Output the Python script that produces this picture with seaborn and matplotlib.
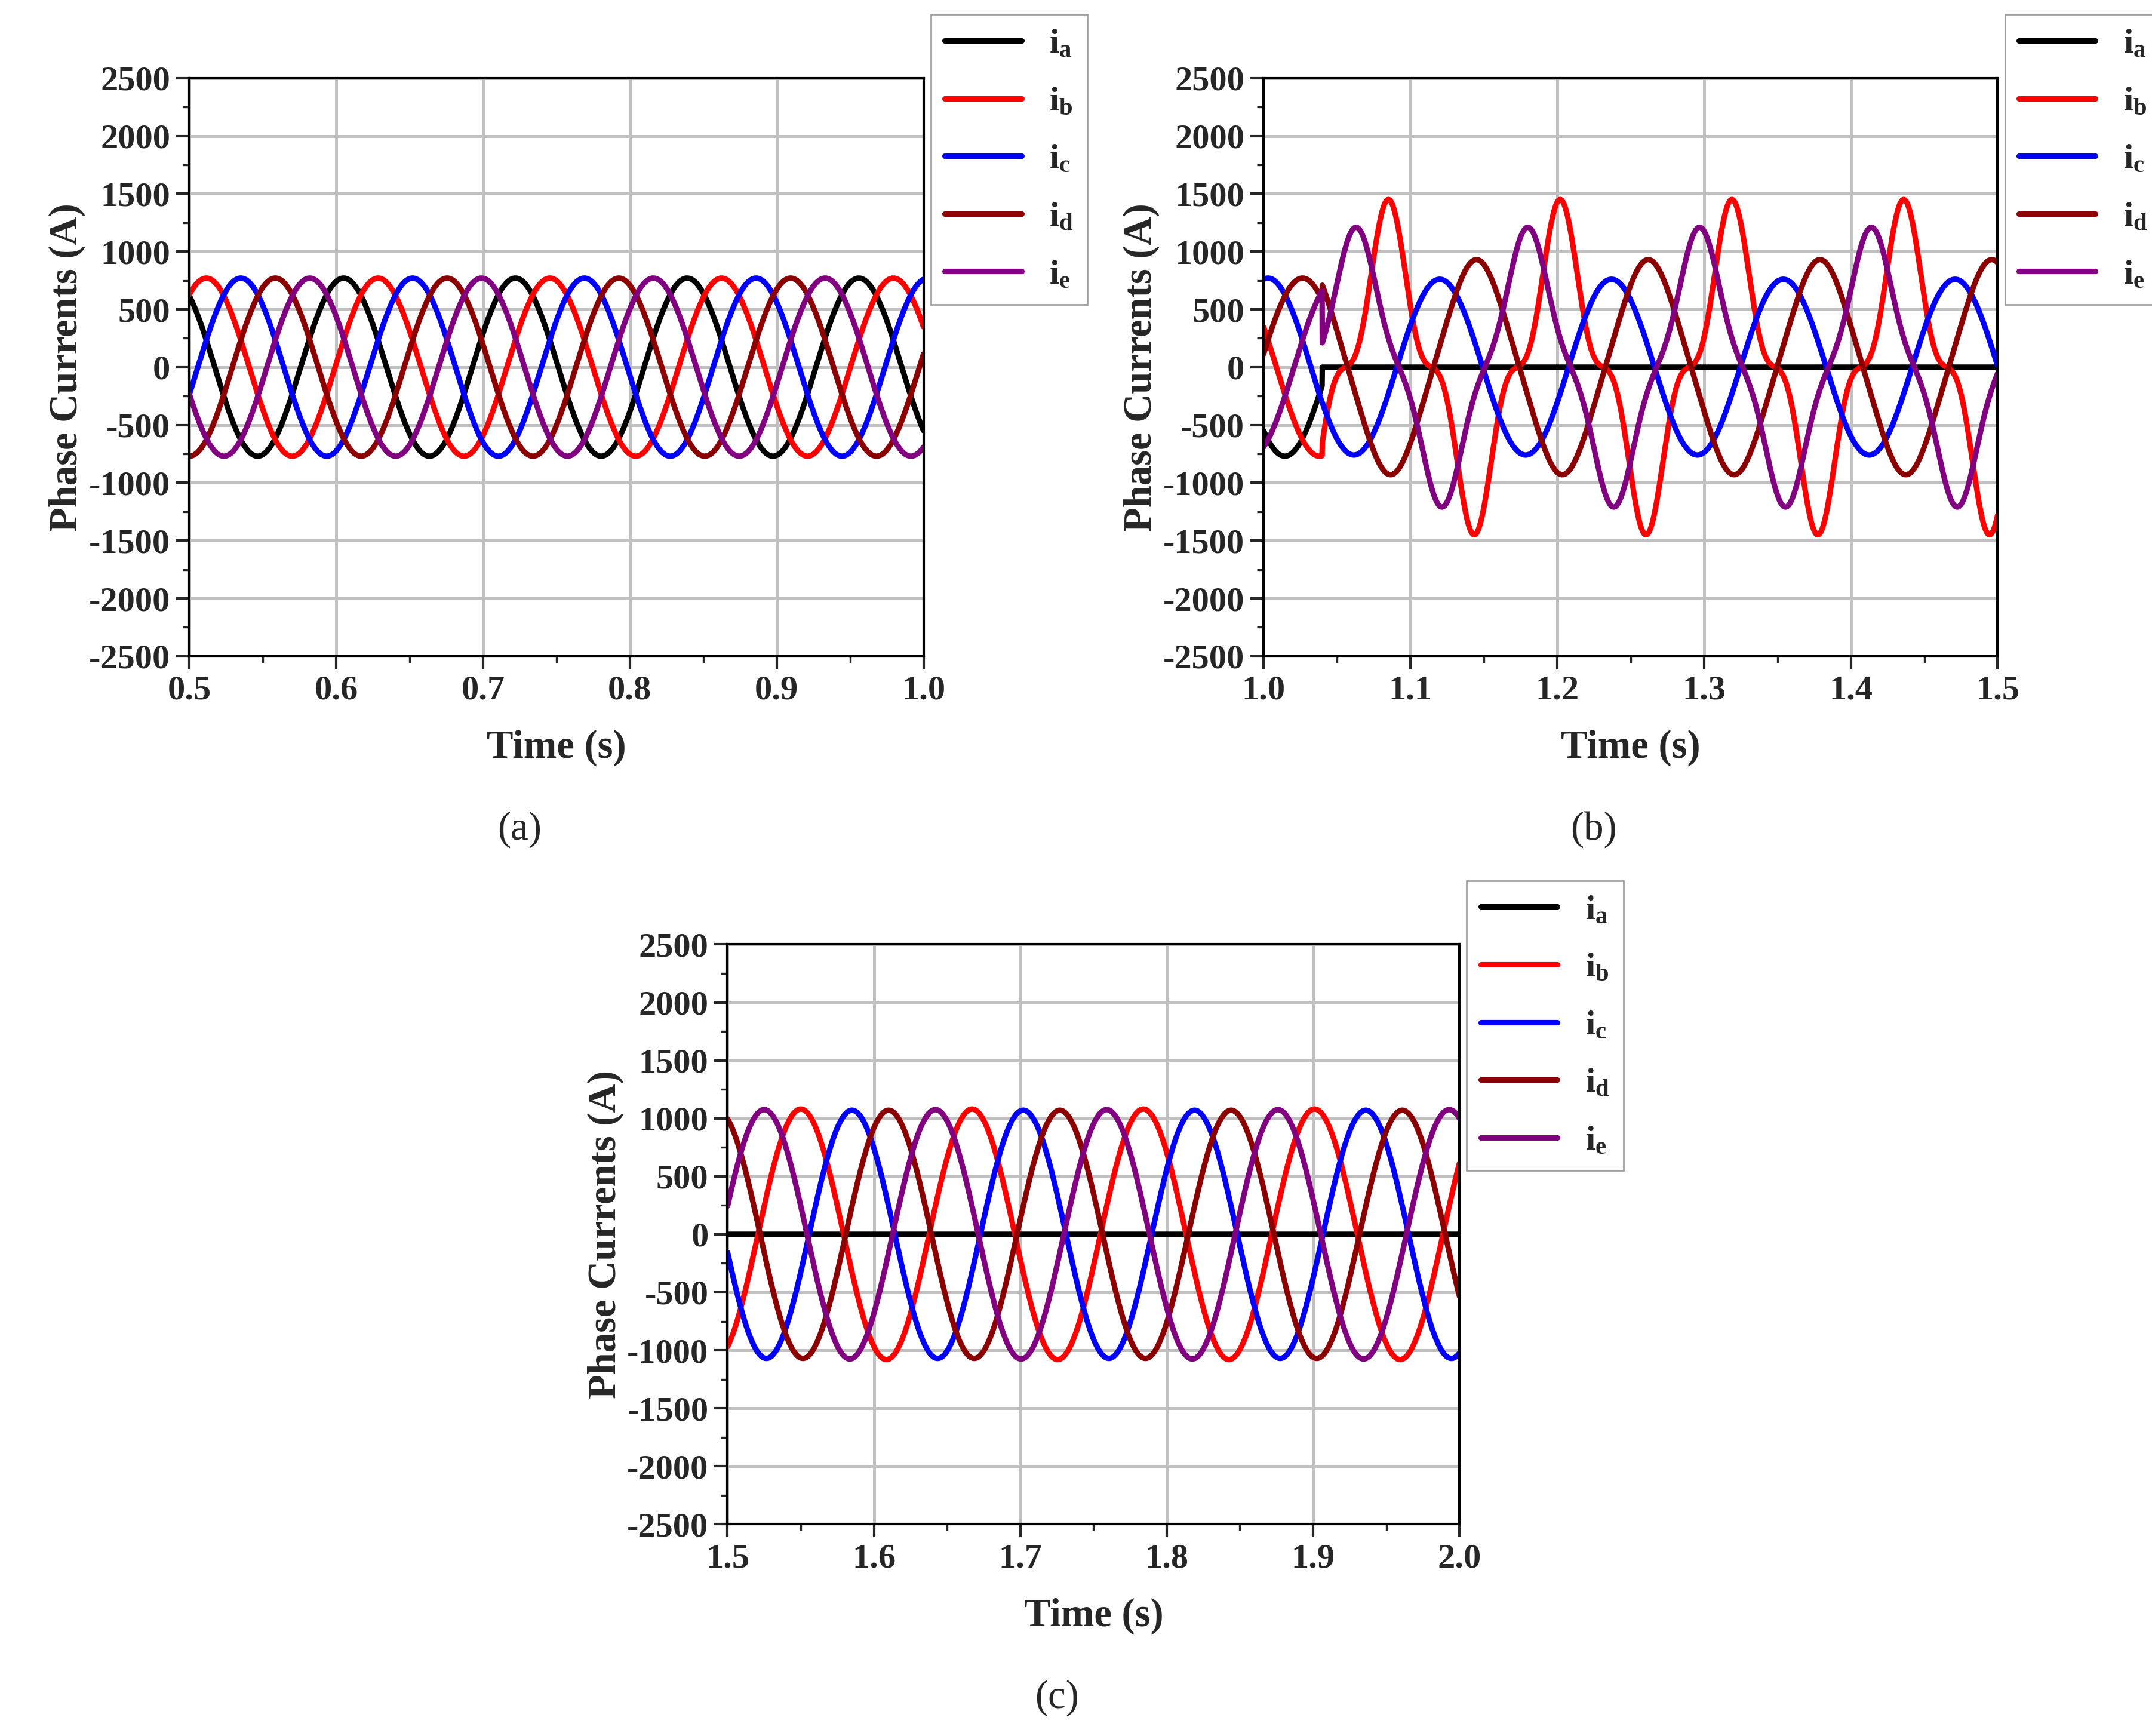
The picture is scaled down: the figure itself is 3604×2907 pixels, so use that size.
import numpy as np
import pandas as pd
import matplotlib
matplotlib.use("Agg")
import matplotlib.pyplot as plt
import seaborn as sns

sns.set_style("white")
plt.rcParams['font.family'] = ['Liberation Serif', 'DejaVu Serif']
plt.rcParams['mathtext.fontset'] = 'custom'
plt.rcParams['mathtext.rm'] = 'Liberation Serif:bold'
plt.rcParams['mathtext.bf'] = 'Liberation Serif:bold'
plt.rcParams['mathtext.it'] = 'Liberation Serif:bold'
plt.rcParams['axes.unicode_minus'] = False

phases = ['a', 'b', 'c', 'd', 'e']
colors = ['#000000', '#ff0000', '#0000ff', '#8b0000', '#800080']
period = 0.117  # s, read from peak spacing

# Panel (a): healthy, amplitude and peak time of each phase
amp_a = [770, 770, 770, 770, 770]
peak_a = [0.488, 0.5115, 0.535, 0.5585, 0.582]

# Panel (b): fault at t=1.04; fundamental amp, 3rd-harmonic amp, peak time
fault_t = 1.04
amp_b = [0, 1120, 760, 900, 1050]
h3_b = [0, 330, 0, 30, 160]
peak_b = [0.0, 1.085, 1.003, 1.028, 1.063]

# Panel (c): post-fault steady state
amp_c = [0, 1080, 1070, 1070, 1075]
peak_c = [0.0, 1.550, 1.585, 1.610, 1.525]

def wave(t, A, tp, h3=0):
    w = 2 * np.pi / period
    return A * np.cos(w * (t - tp)) + h3 * np.cos(3 * w * (t - tp))

def panel_df(t0, t1, fn):
    t = np.linspace(t0, t1, 3000)
    rows = []
    for k, p in enumerate(phases):
        rows.append(pd.DataFrame({'t': t, 'i': fn(t, k), 'phase': p}))
    return pd.concat(rows)

df_a = panel_df(0.5, 1.0, lambda t, k: wave(t, amp_a[k], peak_a[k]))
df_b = panel_df(1.0, 1.5, lambda t, k: np.where(
    t < fault_t, wave(t, amp_a[k], peak_a[k]), wave(t, amp_b[k], peak_b[k], h3_b[k])))
df_c = panel_df(1.5, 2.0, lambda t, k: wave(t, amp_c[k], peak_c[k]))

W, H = 3605, 2907
fig = plt.figure(figsize=(W / 200, H / 200), dpi=200)
positions = [(0.088, 0.622, 0.341, 0.333), (0.587, 0.622, 0.341, 0.333),
             (0.338, 0.122, 0.340, 0.334)]
data = [(df_a, 0.5, 1.0, '(a)'), (df_b, 1.0, 1.5, '(b)'), (df_c, 1.5, 2.0, '(c)')]
labels = [r'$\mathbf{i_%s}$' % p for p in phases]

for pos, (df, x0, x1, cap) in zip(positions, data):
    ax = fig.add_axes(pos)
    sns.lineplot(data=df, x='t', y='i', hue='phase', palette=colors,
                 linewidth=3.3, ax=ax, legend=False, estimator=None, sort=False)
    ax.set_xlim(x0, x1)
    ax.set_ylim(-2500, 2500)
    ax.set_xticks(np.round(np.arange(x0, x1 + 0.001, 0.1), 1))
    ax.set_xticks(np.arange(x0, x1 + 0.001, 0.05), minor=True)
    ax.set_yticks(np.arange(-2500, 2501, 500))
    ax.set_yticks(np.arange(-2500, 2501, 250), minor=True)
    ax.set_xticklabels(['%.1f' % v for v in ax.get_xticks()])
    ax.set_yticklabels(['%d' % v for v in ax.get_yticks()])
    ax.grid(True, which='major', color='#c0c0c0', linewidth=1.8)
    ax.set_axisbelow(True)
    ax.tick_params(which='major', direction='out', length=8, width=1.5, labelsize=21, left=True, bottom=True)
    ax.tick_params(which='minor', direction='out', length=4, width=1.2, left=True, bottom=True)
    for lab in ax.get_xticklabels() + ax.get_yticklabels():
        lab.set_fontweight('bold')
    for s in ax.spines.values():
        s.set_linewidth(1.5); s.set_color('black')
    ax.set_xlabel('Time (s)', fontsize=24, fontweight='bold', labelpad=14)
    ax.set_ylabel('Phase Currents (A)', fontsize=24, fontweight='bold', labelpad=2)
    handles = [plt.Line2D([0], [0], color=c, lw=3.3) for c in colors]
    ax.legend(handles, labels, loc='upper left', bbox_to_anchor=(1.01, 1.11),
              fontsize=21, frameon=True, fancybox=False, edgecolor='#888888',
              handlelength=2.2, labelspacing=0.75, borderaxespad=0)
    ax.text(0.45, -0.30, cap, transform=ax.transAxes, fontsize=24, ha='center', va='center')

fig.savefig('out.png', dpi=200, facecolor='white')
